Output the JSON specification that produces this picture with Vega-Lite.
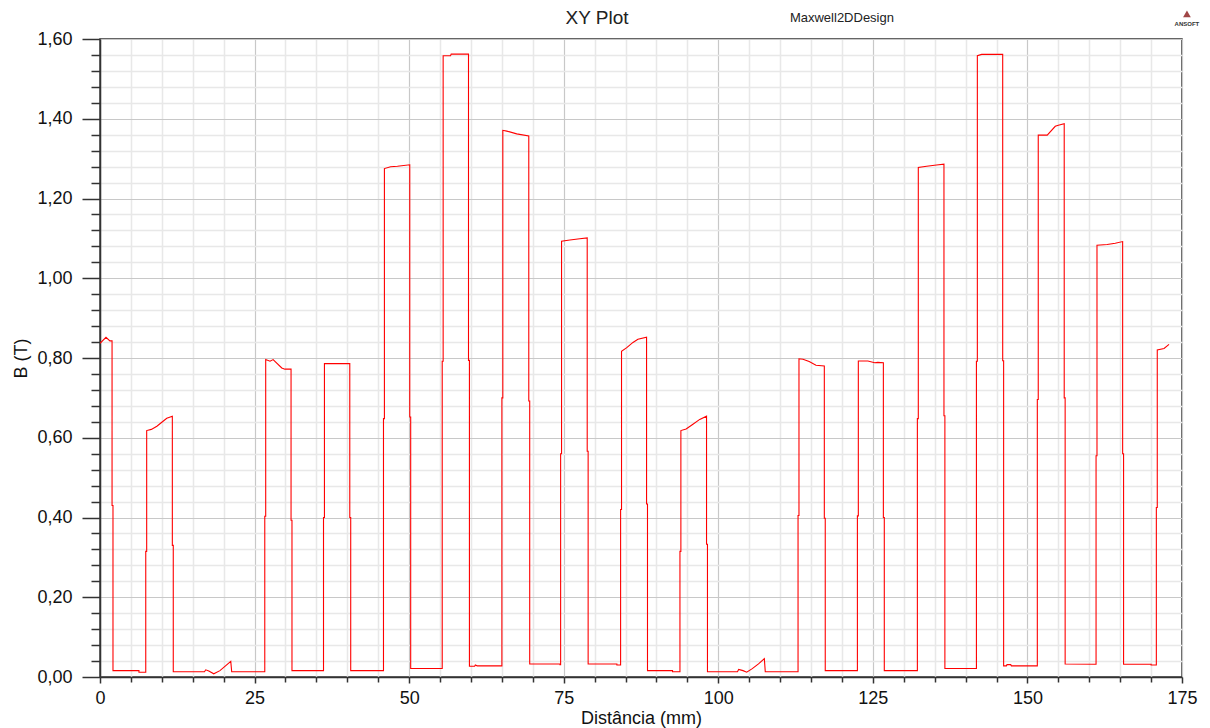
{
"$schema": "https://vega.github.io/schema/vega-lite/v6.json",
"width": 1082, "height": 638,
"autosize": "none",
"padding": {"left": 100, "top": 39, "right": 28, "bottom": 51},
"background": "white",
"config": {"view": {"stroke": "#333333", "strokeWidth": 1.5}, "font": "Liberation Sans"},
"data": {"values": [
{"d":0,"b":0.837},{"d":0.97,"b":0.852},{"d":1.6,"b":0.843},{"d":1.95,"b":0.843},
{"d":1.95,"b":0.43},{"d":2.1,"b":0.43},{"d":2.1,"b":0.016},
{"d":6.3,"b":0.016},{"d":6.3,"b":0.012},{"d":7.4,"b":0.012},
{"d":7.4,"b":0.315},{"d":7.55,"b":0.315},{"d":7.55,"b":0.618},
{"d":8.3,"b":0.621},{"d":9.2,"b":0.629},{"d":10.0,"b":0.639},{"d":10.8,"b":0.649},{"d":11.7,"b":0.654},
{"d":11.7,"b":0.33},{"d":11.85,"b":0.33},{"d":11.85,"b":0.013},
{"d":16.9,"b":0.013},{"d":17.1,"b":0.018},{"d":17.6,"b":0.015},{"d":18.4,"b":0.008},{"d":19.4,"b":0.016},{"d":20.3,"b":0.028},{"d":21.15,"b":0.039},{"d":21.3,"b":0.013},{"d":26.65,"b":0.013},
{"d":26.65,"b":0.403},{"d":26.8,"b":0.403},{"d":26.8,"b":0.796},
{"d":27.5,"b":0.792},{"d":28.0,"b":0.796},{"d":29.4,"b":0.775},{"d":29.9,"b":0.772},{"d":30.9,"b":0.772},
{"d":30.9,"b":0.393},{"d":31.05,"b":0.393},{"d":31.05,"b":0.016},
{"d":36.15,"b":0.016},
{"d":36.15,"b":0.4},{"d":36.3,"b":0.4},{"d":36.3,"b":0.786},
{"d":40.4,"b":0.786},
{"d":40.4,"b":0.4},{"d":40.55,"b":0.4},{"d":40.55,"b":0.016},
{"d":45.85,"b":0.016},
{"d":45.85,"b":0.648},{"d":46.0,"b":0.648},{"d":46.0,"b":1.275},
{"d":47.0,"b":1.2795},{"d":48.1,"b":1.281},{"d":50.1,"b":1.2845},
{"d":50.1,"b":0.652},{"d":50.25,"b":0.652},{"d":50.25,"b":0.0215},
{"d":55.35,"b":0.0215},
{"d":55.35,"b":0.792},{"d":55.5,"b":0.792},{"d":55.5,"b":1.558},{"d":56.7,"b":1.558},{"d":56.8,"b":1.562},
{"d":59.6,"b":1.562},
{"d":59.6,"b":0.794},{"d":59.75,"b":0.794},{"d":59.75,"b":0.027},
{"d":60.6,"b":0.027},{"d":60.7,"b":0.03},{"d":61.0,"b":0.028},{"d":65.0,"b":0.028},
{"d":65.0,"b":0.7},{"d":65.15,"b":0.7},{"d":65.15,"b":1.371},
{"d":65.8,"b":1.369},{"d":67.4,"b":1.362},{"d":69.35,"b":1.357},
{"d":69.35,"b":0.692},{"d":69.5,"b":0.692},{"d":69.5,"b":0.0327},
{"d":74.4,"b":0.0327},{"d":74.4,"b":0.031},{"d":74.5,"b":0.031},
{"d":74.5,"b":0.56},{"d":74.65,"b":0.56},{"d":74.65,"b":1.093},
{"d":76.0,"b":1.096},{"d":77.6,"b":1.099},{"d":78.8,"b":1.101},
{"d":78.8,"b":0.566},{"d":78.95,"b":0.566},{"d":78.95,"b":0.0327},
{"d":83.6,"b":0.0327},{"d":83.6,"b":0.03},{"d":84.2,"b":0.03},
{"d":84.2,"b":0.42},{"d":84.35,"b":0.42},{"d":84.35,"b":0.817},
{"d":85.2,"b":0.826},{"d":86.2,"b":0.839},{"d":87.0,"b":0.847},{"d":88.4,"b":0.852},
{"d":88.4,"b":0.434},{"d":88.55,"b":0.434},{"d":88.55,"b":0.016},
{"d":92.6,"b":0.016},{"d":92.6,"b":0.013},{"d":93.8,"b":0.013},
{"d":93.8,"b":0.315},{"d":93.95,"b":0.315},{"d":93.95,"b":0.618},
{"d":94.8,"b":0.622},{"d":95.9,"b":0.634},{"d":97.0,"b":0.646},{"d":98.1,"b":0.654},
{"d":98.1,"b":0.333},{"d":98.25,"b":0.333},{"d":98.25,"b":0.013},
{"d":103.1,"b":0.013},{"d":103.3,"b":0.019},{"d":104.0,"b":0.016},{"d":104.6,"b":0.012},{"d":105.5,"b":0.021},{"d":106.5,"b":0.033},{"d":107.45,"b":0.046},{"d":107.6,"b":0.013},{"d":112.9,"b":0.013},
{"d":112.9,"b":0.405},{"d":113.05,"b":0.405},{"d":113.05,"b":0.798},
{"d":113.7,"b":0.797},{"d":114.7,"b":0.791},{"d":115.8,"b":0.782},{"d":117.15,"b":0.78},
{"d":117.15,"b":0.398},{"d":117.3,"b":0.398},{"d":117.3,"b":0.016},
{"d":122.5,"b":0.016},
{"d":122.5,"b":0.404},{"d":122.65,"b":0.404},{"d":122.65,"b":0.7925},
{"d":124.2,"b":0.7925},{"d":125.3,"b":0.788},{"d":125.8,"b":0.789},{"d":126.7,"b":0.788},
{"d":126.7,"b":0.4},{"d":126.85,"b":0.4},{"d":126.85,"b":0.016},
{"d":132.2,"b":0.016},
{"d":132.2,"b":0.648},{"d":132.35,"b":0.648},{"d":132.35,"b":1.2778},
{"d":133.7,"b":1.281},{"d":135.3,"b":1.284},{"d":136.5,"b":1.286},
{"d":136.5,"b":0.655},{"d":136.65,"b":0.655},{"d":136.65,"b":0.0215},
{"d":141.75,"b":0.0215},
{"d":141.75,"b":0.792},{"d":141.9,"b":0.792},{"d":141.9,"b":1.558},{"d":142.6,"b":1.5615},
{"d":146.0,"b":1.5615},
{"d":146.0,"b":0.793},{"d":146.15,"b":0.793},{"d":146.15,"b":0.028},
{"d":146.6,"b":0.028},{"d":146.7,"b":0.031},{"d":147.3,"b":0.031},{"d":147.4,"b":0.028},{"d":151.6,"b":0.028},
{"d":151.6,"b":0.696},{"d":151.75,"b":0.696},{"d":151.75,"b":1.359},
{"d":153.2,"b":1.359},{"d":154.5,"b":1.381},{"d":155.0,"b":1.3835},{"d":155.95,"b":1.3875},
{"d":155.95,"b":0.7},{"d":156.1,"b":0.7},{"d":156.1,"b":0.0327},
{"d":161.1,"b":0.032},
{"d":161.1,"b":0.555},{"d":161.25,"b":0.555},{"d":161.25,"b":1.0828},
{"d":162.9,"b":1.0845},{"d":164.2,"b":1.0879},{"d":165.4,"b":1.092},
{"d":165.4,"b":0.56},{"d":165.55,"b":0.56},{"d":165.55,"b":0.032},
{"d":170.0,"b":0.032},{"d":170.0,"b":0.03},{"d":170.85,"b":0.03},
{"d":170.85,"b":0.425},{"d":171.0,"b":0.425},{"d":171.0,"b":0.82},
{"d":172.1,"b":0.824},{"d":172.9,"b":0.834}
]},
"layer": [
{
 "mark": {"type": "line", "strokeOpacity": 0},
 "encoding": {
  "x": {"field": "d", "type": "quantitative", "scale": {"domain": [0, 175], "nice": false, "zero": false},
   "axis": {"orient": "bottom", "values": [5,10,15,20,30,35,40,45,55,60,65,70,80,85,90,95,105,110,115,120,130,135,140,145,155,160,165,170], "labels": false, "title": null, "domain": false, "tickSize": 5, "tickColor": "#333333", "tickWidth": 1.5, "grid": true, "gridColor": "#e8e8e8", "gridWidth": 1.5}},
  "y": {"field": "b", "type": "quantitative", "scale": {"domain": [0, 1.6], "nice": false, "zero": false},
   "axis": {"orient": "left", "values": [0.04,0.08,0.12,0.16,0.24,0.28,0.32,0.36,0.44,0.48,0.52,0.56,0.64,0.68,0.72,0.76,0.84,0.88,0.92,0.96,1.04,1.08,1.12,1.16,1.24,1.28,1.32,1.36,1.44,1.48,1.52,1.56], "labels": false, "title": null, "domain": false, "tickSize": 9, "tickColor": "#333333", "tickWidth": 1.5, "grid": true, "gridColor": "#e8e8e8", "gridWidth": 1.5}},
  "order": {"value": null}
 }
},
{
 "mark": {"type": "line", "color": "#ff0000", "strokeWidth": 1.1, "clip": true},
 "encoding": {
  "x": {"field": "d", "type": "quantitative",
   "axis": {"orient": "bottom", "values": [0,25,50,75,100,125,150,175], "format": "d", "title": "Distância (mm)", "titleFontSize": 18, "titleFontWeight": "normal", "titleColor": "#111111", "titlePadding": 2, "labelFontSize": 18, "labelColor": "#111111", "labelPadding": 6, "tickSize": 6, "tickColor": "#333333", "tickWidth": 1.5, "domainColor": "#333333", "domainWidth": 1.5, "grid": true, "gridColor": "#c8c8c8", "gridWidth": 1.2, "labelFlush": false}},
  "y": {"field": "b", "type": "quantitative",
   "axis": {"orient": "left", "values": [0,0.2,0.4,0.6,0.8,1.0,1.2,1.4,1.6], "labelExpr": "replace(format(datum.value, '.2f'), '.', ',')", "title": "B (T)", "titleFontSize": 18, "titleFontWeight": "normal", "titleColor": "#111111", "titlePadding": 6, "labelFontSize": 18, "labelColor": "#111111", "labelPadding": 10, "tickSize": 18, "tickColor": "#333333", "tickWidth": 1.5, "domainColor": "#333333", "domainWidth": 1.5, "grid": true, "gridColor": "#c8c8c8", "gridWidth": 1.2, "labelFlush": false}},
  "order": {"value": null}
 }
},
{
 "data": {"values": [{"t": "XY Plot"}]},
 "mark": {"type": "text", "fontSize": 19, "font": "Liberation Sans", "color": "#222222", "baseline": "middle", "align": "center"},
 "encoding": {"text": {"field": "t"}, "x": {"datum": 80.4, "type": "quantitative", "axis": null}, "y": {"datum": 1.652, "type": "quantitative", "axis": null}}
},
{
 "data": {"values": [{"t": "Maxwell2DDesign"}]},
 "mark": {"type": "text", "fontSize": 13, "font": "Liberation Sans", "color": "#222222", "baseline": "middle", "align": "center"},
 "encoding": {"text": {"field": "t"}, "x": {"datum": 120, "type": "quantitative", "axis": null}, "y": {"datum": 1.652, "type": "quantitative", "axis": null}}
},
{
 "data": {"values": [{"t": "ANSOFT"}]},
 "mark": {"type": "point", "shape": "triangle-up", "filled": true, "color": "#a04646", "size": 60, "opacity": 1},
 "encoding": {"x": {"datum": 175.8, "type": "quantitative", "axis": null}, "y": {"datum": 1.663, "type": "quantitative", "axis": null}}
},
{
 "data": {"values": [{"t": "ANSOFT"}]},
 "mark": {"type": "text", "fontSize": 6, "fontWeight": "bold", "font": "Liberation Sans", "color": "#333333", "baseline": "middle", "align": "center"},
 "encoding": {"text": {"field": "t"}, "x": {"datum": 175.8, "type": "quantitative", "axis": null}, "y": {"datum": 1.638, "type": "quantitative", "axis": null}}
}
],
"resolve": {"axis": {"x": "independent", "y": "independent"}}
}
